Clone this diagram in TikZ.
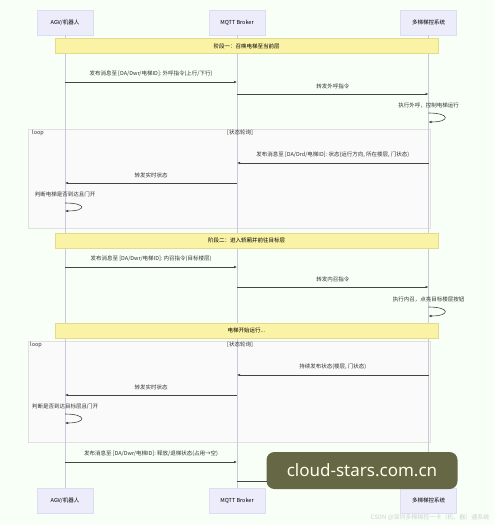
\documentclass[tikz,border=0pt]{standalone}
\usepackage{fontspec}
\setmainfont{Noto Sans CJK SC}
\newfontfamily\wmfont{Noto Sans}
\usetikzlibrary{positioning,arrows.meta}
\definecolor{actfill}{HTML}{ECECFA}
\definecolor{actline}{HTML}{DCDCF2}
\definecolor{notefill}{HTML}{FAF3A6}
\definecolor{noteline}{HTML}{E4DA8E}
\definecolor{msgclr}{HTML}{444444}
\definecolor{wmclr}{HTML}{666845}
\tikzset{
	actor/.style={draw=actline, fill=actfill, minimum width=56pt, minimum height=25pt, inner sep=0pt, font=\fontsize{5.5}{6}\selectfont},
	life/.style={draw=actline!80!gray, line width=0.6pt},
	msg/.style={draw=msgclr, line width=0.6pt, -{Latex[length=3pt,width=2.6pt]}},
	lbl/.style={font=\fontsize{5.5}{6}\selectfont, text=black!80, inner sep=1pt},
	band/.style={draw=noteline, fill=notefill, minimum width=383pt, minimum height=15pt, inner sep=0pt, font=\fontsize{5.5}{6}\selectfont},
	loopbox/.style={draw=black!12, fill=white!96!gray, line width=0.5pt}
}
\begin{document}
\begin{tikzpicture}[x=1pt,y=-1pt]
	\fill[white!97!green] (0,0) rectangle (494,525);
	\useasboundingbox (0,0) rectangle (494,525);
	% participants
	\node[actor] (agv) at (65,22.5) {AGV/机器人};
	\node[actor] (broker) at (237,22.5) {MQTT Broker};
	\node[actor] (sys) at (428.5,22.5) {多梯梯控系统};
	\node[actor] (agvB) at (65,500.5) {AGV/机器人};
	\node[actor] (brokerB) at (237,500.5) {MQTT Broker};
	\node[actor] (sysB) at (428.5,500.5) {多梯梯控系统};
	% loop frames
	\draw[loopbox] (28,129) rectangle (430,228);
	\draw[loopbox] (28,341) rectangle (430,442);
	\draw[life] (agv) -- (agvB);
	\draw[life] (broker) -- (brokerB);
	\draw[life] (sys) -- (sysB);
	\node[lbl, anchor=west] (loopA) at (31,133) {loop};
	\node[lbl] (condA) at (240,133) {[状态轮询]};
	\node[lbl, anchor=west] (loopB) at (29,345) {loop};
	\node[lbl] (condB) at (240,345) {[状态轮询]};
	% stage one
	\node[band] (stageA) at (246.5,46) {阶段一：召唤电梯至当前层};
	\draw[msg] (agv |- 0,82) -- node[lbl, above=4pt] {发布消息至 [DA/Dwr/电梯ID]: 外呼指令(上行/下行)} (broker |- 0,82);
	\draw[msg] (broker |- 0,94) -- node[lbl, above=4pt] {转发外呼指令} (sys |- 0,94);
	\node[lbl] (selfA) at (sys |- 0,105) {执行外呼，控制电梯运行};
	\draw[msg] (sys |- 0,113) .. controls +(22,0) and +(22,0) .. (sys |- 0,122);
	\draw[msg] (sys |- 0,163) -- node[lbl, above=4pt] {发布消息至 [DA/Drd/电梯ID]: 状态(运行方向, 所在楼层, 门状态)} (broker |- 0,163);
	\draw[msg] (broker |- 0,183) -- node[lbl, above=4pt] {转发实时状态} (agv |- 0,183);
	\node[lbl] (checkA) at (agv |- 0,194) {判断电梯是否到达且门开};
	\draw[msg] (agv |- 0,203) .. controls +(22,0) and +(22,0) .. (agv |- 0,211);
	% stage two
	\node[band] (stageB) at (246.5,240.5) {阶段二：进入轿厢并前往目标层};
	\draw[msg] (agv |- 0,267) -- node[lbl, above=4pt] {发布消息至 [DA/Dwr/电梯ID]: 内召指令(目标楼层)} (broker |- 0,267);
	\draw[msg] (broker |- 0,287) -- node[lbl, above=4pt] {转发内召指令} (sys |- 0,287);
	\node[lbl] (selfB) at (sys |- 0,299) {执行内召，点亮目标楼层按钮};
	\draw[msg] (sys |- 0,307) .. controls +(22,0) and +(22,0) .. (sys |- 0,316);
	\node[band] (run) at (246.5,330.5) {电梯开始运行...};
	\draw[msg] (sys |- 0,375) -- node[lbl, above=4pt] {持续发布状态(楼层, 门状态)} (broker |- 0,375);
	\draw[msg] (broker |- 0,395) -- node[lbl, above=4pt] {转发实时状态} (agv |- 0,395);
	\node[lbl] (checkB) at (agv |- 0,406) {判断是否到达目标层且门开};
	\draw[msg] (agv |- 0,414) .. controls +(22,0) and +(22,0) .. (agv |- 0,423);
	\draw[msg] (agv |- 0,462) -- node[lbl, above=4pt] {发布消息至 [DA/Dwr/电梯ID]: 释放/退梯状态(占用→空)} (broker |- 0,462);
	\draw[msg] (broker |- 0,481) -- (sys |- 0,481);
	% watermarks
	\node[fill=wmclr, rounded corners=8pt, minimum width=191pt, minimum height=37pt, text=white!92!yellow, font=\wmfont\fontsize{17}{18}\selectfont] (wm) at (362,470.5) {cloud-stars.com.cn};
	\node[font=\fontsize{6}{7}\selectfont, text=black!18, anchor=east] (csdn) at (493,517) {CSDN @深圳多梯梯控一卡（机、器）通系统};
\end{tikzpicture}
\end{document}
